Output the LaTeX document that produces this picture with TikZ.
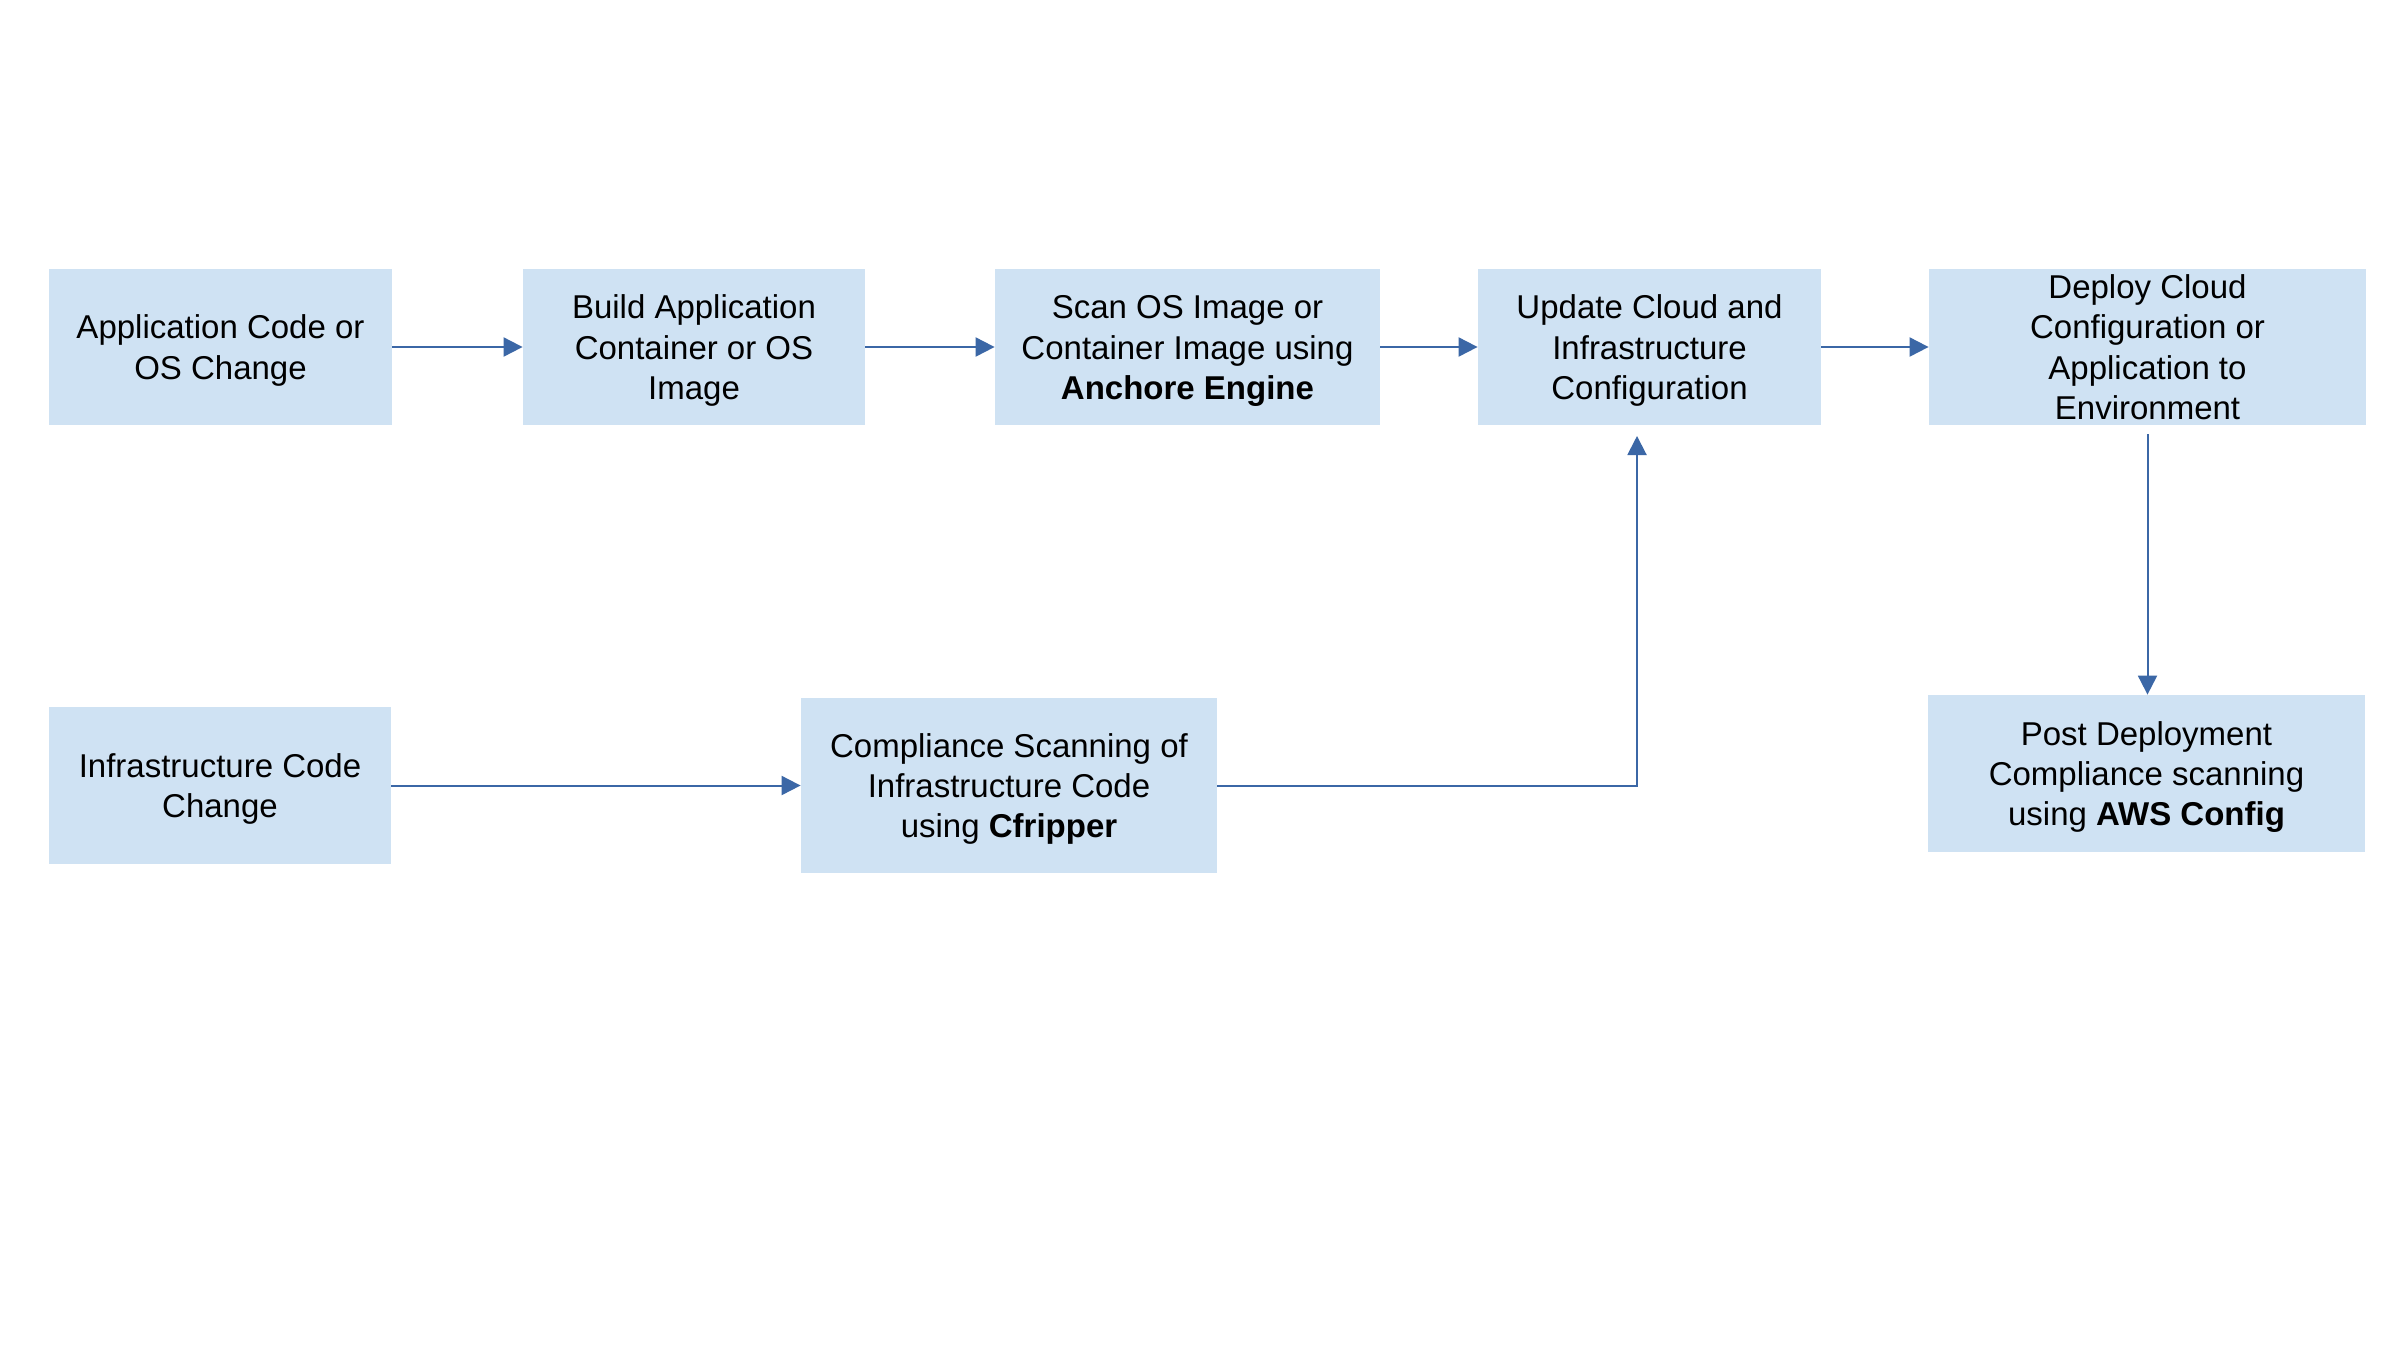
\documentclass[tikz,border=0pt]{standalone}
\usepackage{fontspec}
\setmainfont{Liberation Sans}
\usetikzlibrary{arrows.meta}
\definecolor{boxfill}{HTML}{CFE2F3}
\definecolor{arrowblue}{HTML}{3B67A6}
\newcommand\boxtext[1]{\raisebox{-2pt}[\dimexpr\height-3pt\relax][\dimexpr\depth-3pt\relax]{\begin{tabular}{@{}c@{}}#1\end{tabular}}}
\tikzset{
  box/.style={rectangle, fill=boxfill, draw=none, inner sep=0pt, align=center,
    font=\fontsize{16.5}{20.1}\selectfont, text=black},
  arr/.style={draw=arrowblue, line width=1pt, -{Triangle[length=9.5pt,width=9.5pt]}}
}
\begin{document}
\begin{tikzpicture}[x=0.5pt,y=-0.5pt]
\useasboundingbox[fill=white] (0,0) rectangle (2400,1350);
\node[box, minimum width=171.5pt, minimum height=78pt] (b1) at (220.5,347) {\boxtext{Application Code or\\OS Change}};
\node[box, minimum width=171pt, minimum height=78pt] (b2) at (694,347) {\boxtext{Build Application\\Container or OS\\Image}};
\node[box, minimum width=192.5pt, minimum height=78pt] (b3) at (1187.5,347) {\boxtext{Scan OS Image or\\Container Image using\\\textbf{Anchore Engine}}};
\node[box, minimum width=171.5pt, minimum height=78pt] (b4) at (1649.5,347) {\boxtext{Update Cloud and\\Infrastructure\\Configuration}};
\node[box, minimum width=218.5pt, minimum height=78pt] (b5) at (2147.5,347) {\boxtext{Deploy Cloud\\Configuration or\\Application to\\Environment}};
\node[box, minimum width=171pt, minimum height=78.5pt] (b6) at (220,785.5) {\boxtext{Infrastructure Code\\Change}};
\node[box, minimum width=208pt, minimum height=87.5pt] (b7) at (1009,785.5) {\boxtext{Compliance Scanning of\\Infrastructure Code\\using \textbf{Cfripper}}};
\node[box, minimum width=218.5pt, minimum height=78.5pt] (b8) at (2146.5,773.5) {\boxtext{Post Deployment\\Compliance scanning\\using \textbf{AWS Config}}};
\coordinate (up) at (1637,425);
\draw[arr] (b1.east) -- (b2.west);
\draw[arr] (b2.east) -- (b3.west);
\draw[arr] (b3.east) -- (b4.west);
\draw[arr] (b4.east) -- (b5.west);
\draw[arr] (b6.east) -- (b7.west);
\draw[arr, shorten >=5.5pt] (b7.east) -| (up);
\draw[arr, shorten <=4.5pt] (b5.south) -- (b5.south |- b8.north);
\end{tikzpicture}
\end{document}
